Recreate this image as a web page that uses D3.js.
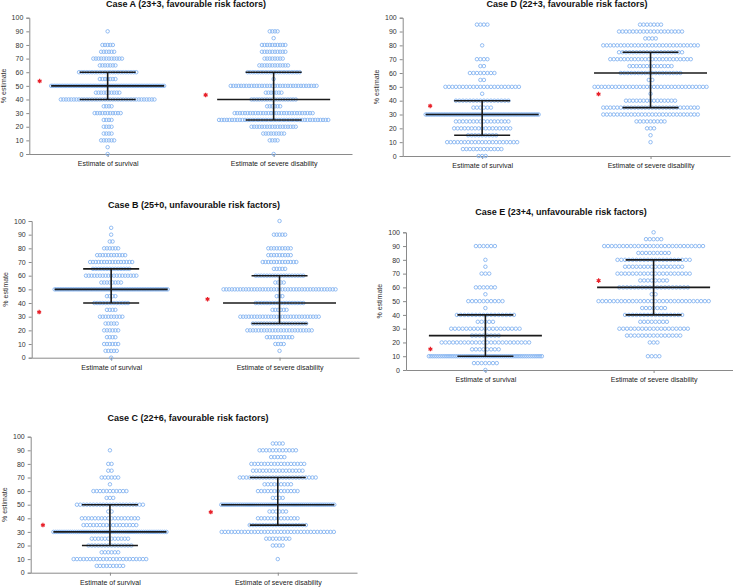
<!DOCTYPE html>
<html>
<head>
<meta charset="utf-8">
<script src="https://cdn.jsdelivr.net/npm/d3@7"></script>
<style>
  html, body { margin: 0; padding: 0; background: #fff; }
  svg { display: block; font-family: "Liberation Sans", Arial, sans-serif; }
</style>
</head>
<body>
<svg id="chart" width="733" height="587"></svg>
<script>
// ---------------- DATA ----------------
const categories = ["Estimate of survival", "Estimate of severe disability"];
const rowValues = d3.range(0, 101, 5);           // 0,5,...,100
const yTicks = d3.range(0, 101, 10);

// number of respondents at each rowValue (0,5,10,...,100)
const caseA_survival = [1,1,6,4,4,4,11,4,37,10,70,7,23,7,12,6,5,0,1,0,0];
const caseA_severe   = [1,0,4,9,18,43,31,6,18,7,34,1,21,12,8,10,10,1,4,0,0];
const caseB_survival = [1,5,6,4,6,5,9,4,13,4,70,8,19,14,16,11,6,2,1,1,0];
const caseB_severe   = [0,1,4,10,24,20,29,6,18,3,41,4,18,5,13,9,9,0,5,0,1];
const caseC_survival = [0,9,23,6,14,12,60,17,18,2,21,3,11,1,6,2,2,0,1,0,0];
const caseC_severe   = [0,0,1,0,4,8,35,18,13,6,60,4,13,9,24,16,17,5,12,4,0];
const caseD_survival = [3,12,21,9,17,16,70,6,16,1,22,2,8,2,4,0,1,0,0,4,0];
const caseD_severe   = [0,0,1,1,3,9,28,28,15,1,33,2,18,13,24,19,28,4,19,7,0];
const caseE_survival = [1,7,60,8,24,8,19,5,16,1,10,1,6,0,3,1,1,0,6,0,0];
const caseE_severe   = [0,0,4,0,3,15,19,8,16,7,30,2,19,8,20,16,20,9,27,5,1];

// medians and quartiles [survival, severe disability]
const caseA_median = [50, 40], caseA_q1 = [40, 25], caseA_q3 = [60, 60];
const caseB_median = [50, 40], caseB_q1 = [40, 25], caseB_q3 = [65, 60];
const caseC_median = [30, 50], caseC_q1 = [20, 35], caseC_q3 = [50, 70];
const caseD_median = [30, 60], caseD_q1 = [15, 35], caseD_q3 = [40, 75];
const caseE_median = [25, 60], caseE_q1 = [10, 40], caseE_q3 = [40, 80];

// actual outcome (red asterisk) [survival, severe disability]
const caseA_actual = [53.5, 43.3];
const caseB_actual = [33.4, 42.8];
const caseC_actual = [35.0, 44.6];
const caseD_actual = [36.2, 44.8];
const caseE_actual = [15.2, 64.9];

const titles = {
  A: "Case A (23+3, favourable risk factors)",
  B: "Case B (25+0, unfavourable risk factors)",
  C: "Case C (22+6, favourable risk factors)",
  D: "Case D (22+3, favourable risk factors)",
  E: "Case E (23+4, unfavourable risk factors)"
};

// ---------------- LAYOUT ----------------
const layout = {
  A: {left: 29.3, right: 352, top: 17.7, bottom: 154,   titleX: 186, titleY: 7,   spacing: 2.6, starDx: -68},
  B: {left: 31.7, right: 359, top: 221,  bottom: 357.7, titleX: 194, titleY: 208, spacing: 2.8, starDx: -72},
  C: {left: 30.7, right: 357, top: 436.7,bottom: 572.7, titleX: 188, titleY: 421, spacing: 3.3, starDx: -67},
  D: {left: 402.7,right: 730, top: 17.7, bottom: 156,   titleX: 567, titleY: 7,   spacing: 3.5, starDx: -52},
  E: {left: 406,  right: 733, top: 232.3,bottom: 370,   titleX: 561, titleY: 215, spacing: 3.8, starDx: -55}
};

const panels = [
  {key: "A", counts: [caseA_survival, caseA_severe], median: caseA_median, q1: caseA_q1, q3: caseA_q3, actual: caseA_actual},
  {key: "B", counts: [caseB_survival, caseB_severe], median: caseB_median, q1: caseB_q1, q3: caseB_q3, actual: caseB_actual},
  {key: "C", counts: [caseC_survival, caseC_severe], median: caseC_median, q1: caseC_q1, q3: caseC_q3, actual: caseC_actual},
  {key: "D", counts: [caseD_survival, caseD_severe], median: caseD_median, q1: caseD_q1, q3: caseD_q3, actual: caseD_actual},
  {key: "E", counts: [caseE_survival, caseE_severe], median: caseE_median, q1: caseE_q1, q3: caseE_q3, actual: caseE_actual}
];

const DOT_R = 1.75;
const MAX_ROW_W = 113;
const MED_HALF = 56.5, Q_HALF = 28;
const DOT_COLOR = "#86b4f0";
const AXIS_COLOR = "#8a8a8a";

const svg = d3.select("#chart");
svg.append("rect").attr("width", 733).attr("height", 587).attr("fill", "#fff");

panels.forEach(p => {
  const L = layout[p.key];
  const g = svg.append("g").attr("class", "panel-" + p.key);

  const y = d3.scaleLinear().domain([0, 100]).range([L.bottom, L.top]);
  const x = d3.scalePoint().domain(categories).range([L.left, L.right]).padding(0.472);

  // title
  g.append("text")
    .attr("x", L.titleX).attr("y", L.titleY)
    .attr("text-anchor", "middle")
    .attr("font-size", 9).attr("font-weight", "bold").attr("fill", "#111")
    .text(titles[p.key]);

  // y axis
  const yAxis = g.append("g")
    .attr("transform", `translate(${L.left},0)`)
    .call(d3.axisLeft(y).tickValues(yTicks).tickSize(3).tickPadding(3));
  yAxis.select(".domain").attr("stroke", AXIS_COLOR);
  yAxis.selectAll(".tick line").attr("stroke", AXIS_COLOR);
  yAxis.selectAll(".tick text").attr("font-size", 7).attr("fill", "#333").attr("font-family", "Liberation Sans, Arial, sans-serif");

  // x axis
  const xAxis = g.append("g")
    .attr("transform", `translate(0,${L.bottom})`)
    .call(d3.axisBottom(x).tickSize(3).tickPadding(4).tickSizeOuter(0));
  xAxis.select(".domain").attr("stroke", AXIS_COLOR);
  xAxis.selectAll(".tick line").attr("stroke", AXIS_COLOR);
  xAxis.selectAll(".tick text").attr("font-size", 7).attr("fill", "#222").attr("font-family", "Liberation Sans, Arial, sans-serif");

  // y axis title
  g.append("text")
    .attr("transform", `translate(${Math.max(L.left - 24, 6)},${(L.top + L.bottom) / 2}) rotate(-90)`)
    .attr("text-anchor", "middle")
    .attr("font-size", 7).attr("fill", "#333")
    .text("% estimate");

  // dots
  const pts = [];
  categories.forEach((cat, ci) => {
    p.counts[ci].forEach((n, ri) => {
      if (!n) return;
      const s = n > 1 ? Math.min(L.spacing, MAX_ROW_W / (n - 1)) : 0;
      for (let i = 0; i < n; i++) {
        pts.push({cat, v: rowValues[ri], off: (i - (n - 1) / 2) * s});
      }
    });
  });
  g.append("g").selectAll("circle").data(pts).join("circle")
    .attr("cx", d => x(d.cat) + d.off)
    .attr("cy", d => y(d.v))
    .attr("r", DOT_R)
    .attr("fill", "none")
    .attr("stroke", DOT_COLOR)
    .attr("stroke-width", 0.9);

  // median / quartile bars
  const bars = g.append("g").attr("stroke", "#1a1a1a").attr("stroke-width", 1.6);
  categories.forEach((cat, ci) => {
    const cx = x(cat);
    bars.append("line").attr("x1", cx).attr("x2", cx).attr("y1", y(p.q1[ci])).attr("y2", y(p.q3[ci]));
    bars.append("line").attr("x1", cx - MED_HALF).attr("x2", cx + MED_HALF).attr("y1", y(p.median[ci])).attr("y2", y(p.median[ci]));
    [p.q1[ci], p.q3[ci]].forEach(q => {
      bars.append("line").attr("x1", cx - Q_HALF).attr("x2", cx + Q_HALF).attr("y1", y(q)).attr("y2", y(q));
    });
  });

  // actual outcome stars
  const star = d3.symbol().type(d3.symbolAsterisk).size(14);
  categories.forEach((cat, ci) => {
    const sg = g.append("g").attr("transform", `translate(${x(cat) + L.starDx},${y(p.actual[ci])})`);
    sg.append("path").attr("d", star()).attr("stroke", "#e8222b").attr("stroke-width", 1.2).attr("fill", "none");
    sg.append("circle").attr("r", 1.2).attr("fill", "#e8222b");
  });
});
</script>
</body>
</html>
